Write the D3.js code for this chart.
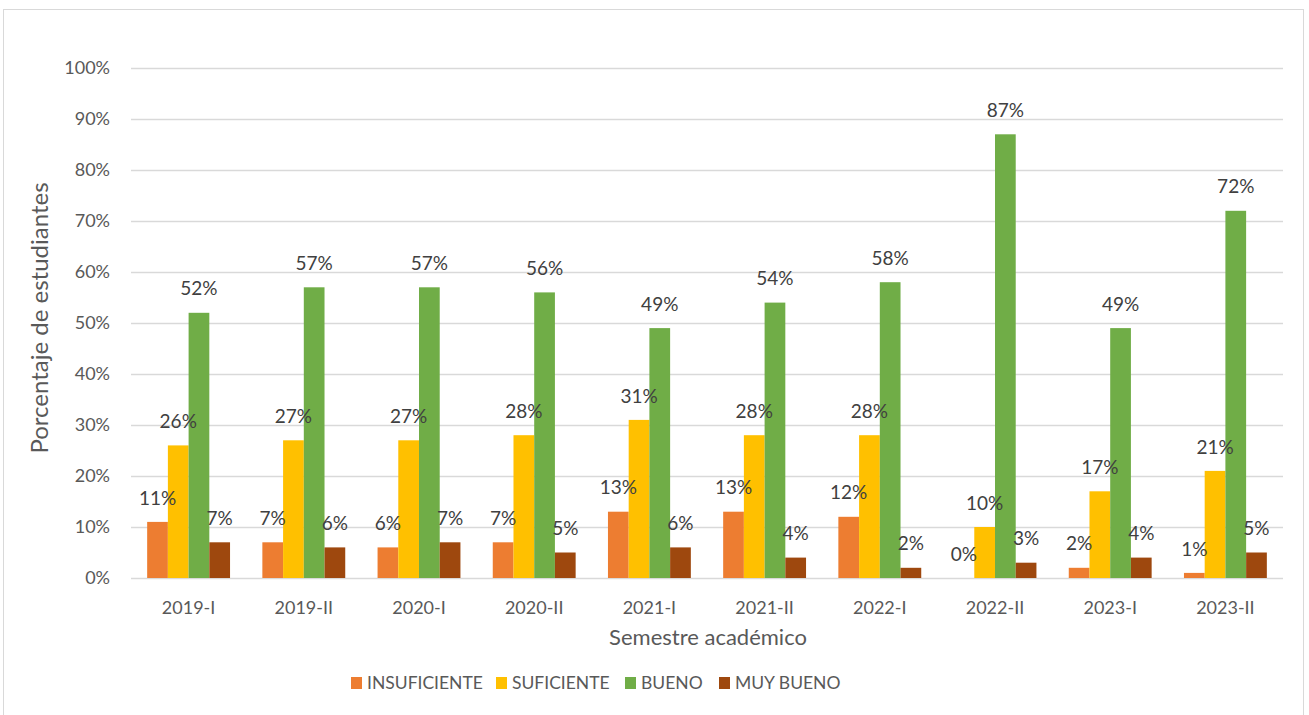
<!DOCTYPE html>
<html>
<head>
<meta charset="utf-8">
<script src="https://cdn.jsdelivr.net/npm/d3@7"></script>
<style>
  body { margin: 0; background: #fff; }
  svg { display: block; font-family: Lato, "Open Sans", sans-serif; }
</style>
</head>
<body>
<svg id="chart" width="1309" height="715"></svg>
<script>
// Data
const semestres = ["2019-I", "2019-II", "2020-I", "2020-II", "2021-I", "2021-II", "2022-I", "2022-II", "2023-I", "2023-II"];
const niveles = ["INSUFICIENTE", "SUFICIENTE", "BUENO", "MUY BUENO"];
const insuficiente = [11, 7, 6, 7, 13, 13, 12, 0, 2, 1];
const suficiente   = [26, 27, 27, 28, 31, 28, 28, 10, 17, 21];
const bueno        = [52, 57, 57, 56, 49, 54, 58, 87, 49, 72];
const muyBueno     = [7, 6, 7, 5, 6, 4, 2, 3, 4, 5];
const yTicks = [0, 10, 20, 30, 40, 50, 60, 70, 80, 90, 100];

const series = [insuficiente, suficiente, bueno, muyBueno];
const colores = ["#ED7D31", "#FFC000", "#70AD47", "#9E480E"];

const svg = d3.select("#chart");
const plotLeft = 131, plotRight = 1283, plotTop = 68, plotBottom = 578;

// chart frame
svg.append("rect")
    .attr("x", 3.5).attr("y", 9.5)
    .attr("width", 1300).attr("height", 720)
    .attr("fill", "none")
    .attr("stroke", "#d9d9d9");

const x0 = d3.scaleBand().domain(semestres).range([plotLeft, plotRight]);
const x1 = d3.scaleBand().domain(niveles)
    .range([0, x0.bandwidth()])
    .paddingOuter(0.78);
const y = d3.scaleLinear().domain([0, 100]).range([plotBottom, plotTop]);
const color = d3.scaleOrdinal(niveles, colores);

// gridlines
svg.append("g")
    .selectAll("line")
    .data(yTicks)
    .join("line")
    .attr("x1", plotLeft).attr("x2", plotRight)
    .attr("y1", d => Math.round(y(d)) + 0.5)
    .attr("y2", d => Math.round(y(d)) + 0.5)
    .attr("stroke", "#d9d9d9")
    .attr("stroke-width", 1.5);

// y tick labels
svg.append("g")
    .selectAll("text")
    .data(yTicks)
    .join("text")
    .attr("x", plotLeft - 21)
    .attr("y", d => y(d))
    .attr("dy", "0.35em")
    .attr("text-anchor", "end")
    .attr("fill", "#595959")
    .style("font-size", "18px")
    .text(d => d + "%");

// x tick labels
svg.append("g")
    .selectAll("text")
    .data(semestres)
    .join("text")
    .attr("x", d => x0(d) + x0.bandwidth() / 2)
    .attr("y", plotBottom + 30)
    .attr("dy", "0.35em")
    .attr("text-anchor", "middle")
    .attr("fill", "#595959")
    .style("font-size", "18px")
    .text(d => d);

// bars + labels
const rows = [];
semestres.forEach((s, i) => {
    niveles.forEach((n, j) => rows.push({ sem: s, nivel: n, value: series[j][i] }));
});

svg.append("g")
    .selectAll("rect")
    .data(rows)
    .join("rect")
    .attr("x", d => x0(d.sem) + x1(d.nivel))
    .attr("y", d => y(d.value))
    .attr("width", x1.bandwidth())
    .attr("height", d => y(0) - y(d.value))
    .attr("fill", d => color(d.nivel));

svg.append("g")
    .selectAll("text")
    .data(rows)
    .join("text")
    .attr("x", d => x0(d.sem) + x1(d.nivel) + x1.bandwidth() / 2)
    .attr("y", d => y(d.value) - 24)
    .attr("dy", "0.35em")
    .attr("text-anchor", "middle")
    .attr("fill", "#404040")
    .style("font-size", "19px")
    .text(d => d.value + "%");

// axis titles
svg.append("text")
    .attr("transform", `translate(40,${(plotTop + plotBottom) / 2 - 5}) rotate(-90)`)
    .attr("text-anchor", "middle")
    .attr("dy", "0.35em")
    .attr("fill", "#595959")
    .style("font-size", "24px")
    .text("Porcentaje de estudiantes");

svg.append("text")
    .attr("x", (plotLeft + plotRight) / 2 + 1)
    .attr("y", 637)
    .attr("dy", "0.35em")
    .attr("text-anchor", "middle")
    .attr("fill", "#595959")
    .style("font-size", "22px")
    .text("Semestre académico");

// legend
const legendX = [351, 496, 625, 719];
const legend = svg.append("g")
    .selectAll("g")
    .data(niveles)
    .join("g")
    .attr("transform", (d, i) => `translate(${legendX[i]},683)`);
legend.append("rect")
    .attr("x", 0).attr("y", -6)
    .attr("width", 11).attr("height", 12)
    .attr("fill", d => color(d));
legend.append("text")
    .attr("x", 16).attr("y", 0)
    .attr("dy", "0.35em")
    .attr("fill", "#595959")
    .style("font-size", "17.5px")
    .text(d => d);
</script>
</body>
</html>
